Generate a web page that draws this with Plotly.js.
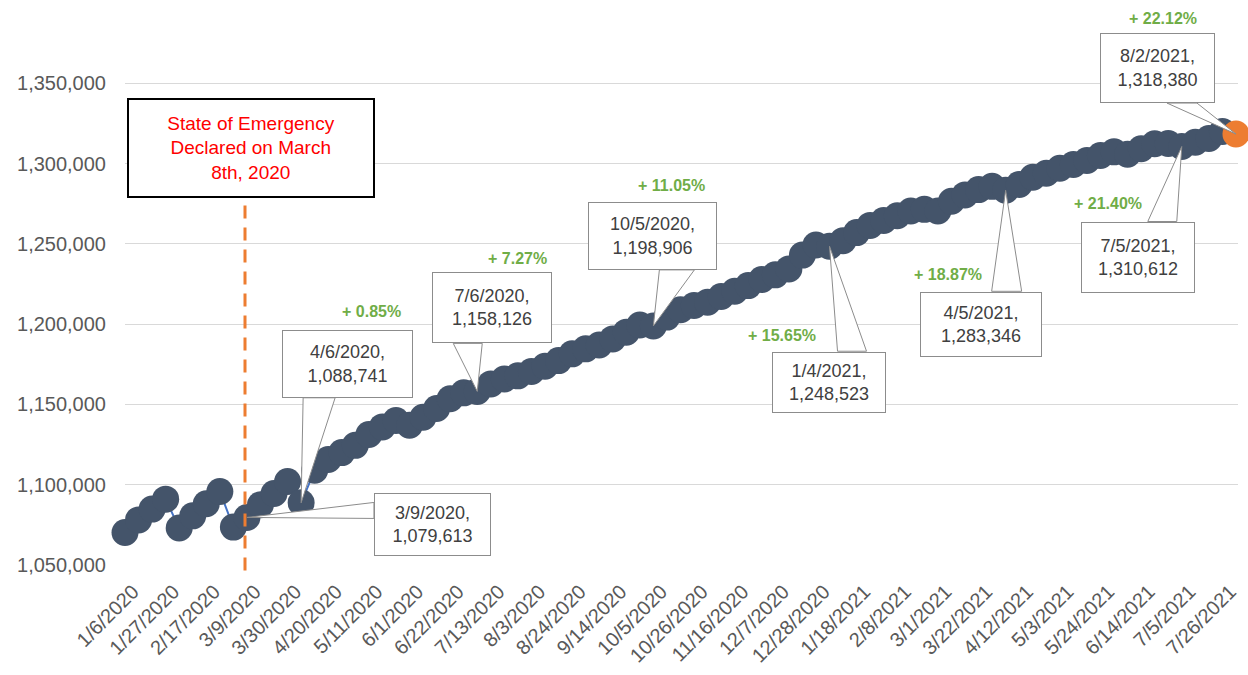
<!DOCTYPE html>
<html>
<head>
<meta charset="utf-8">
<script src="https://cdn.plot.ly/plotly-3.0.1.min.js"></script>
<style>
  body { margin: 0; background: #fff; }
  #chart { width: 1248px; height: 675px; }
</style>
</head>
<body>
<div id="chart"></div>
<script>
// weekly dates (categories)
const weeks = [
  '1/6/2020', '1/13/2020', '1/20/2020', '1/27/2020', '2/3/2020', '2/10/2020', '2/17/2020', '2/24/2020',
  '3/2/2020', '3/9/2020', '3/16/2020', '3/23/2020', '3/30/2020', '4/6/2020', '4/13/2020', '4/20/2020',
  '4/27/2020', '5/4/2020', '5/11/2020', '5/18/2020', '5/25/2020', '6/1/2020', '6/8/2020', '6/15/2020',
  '6/22/2020', '6/29/2020', '7/6/2020', '7/13/2020', '7/20/2020', '7/27/2020', '8/3/2020', '8/10/2020',
  '8/17/2020', '8/24/2020', '8/31/2020', '9/7/2020', '9/14/2020', '9/21/2020', '9/28/2020', '10/5/2020',
  '10/12/2020', '10/19/2020', '10/26/2020', '11/2/2020', '11/9/2020', '11/16/2020', '11/23/2020', '11/30/2020',
  '12/7/2020', '12/14/2020', '12/21/2020', '12/28/2020', '1/4/2021', '1/11/2021', '1/18/2021', '1/25/2021',
  '2/1/2021', '2/8/2021', '2/15/2021', '2/22/2021', '3/1/2021', '3/8/2021', '3/15/2021', '3/22/2021',
  '3/29/2021', '4/5/2021', '4/12/2021', '4/19/2021', '4/26/2021', '5/3/2021', '5/10/2021', '5/17/2021',
  '5/24/2021', '5/31/2021', '6/7/2021', '6/14/2021', '6/21/2021', '6/28/2021', '7/5/2021', '7/12/2021',
  '7/19/2021', '7/26/2021', '8/2/2021'
];

// weekly totals (labelled ones exact)
const totals = [
  1070200, 1078100, 1084800, 1091000, 1073000, 1080600, 1088100, 1095800,
  1073600, 1079613, 1087500, 1094500, 1102000, 1088741, 1109000, 1115700,
  1120000, 1124500, 1131300, 1136000, 1140000, 1137000, 1142000, 1147500,
  1153500, 1157200, 1158126, 1162800, 1165800, 1167800, 1170500, 1173800,
  1177300, 1181500, 1184600, 1187000, 1190800, 1195000, 1199500, 1198906,
  1204400, 1209000, 1211600, 1213700, 1217200, 1220500, 1224000, 1227800,
  1230700, 1234400, 1243000, 1249300, 1248523, 1252000, 1257000, 1261500,
  1264500, 1267500, 1270500, 1271500, 1270500, 1276500, 1280500, 1283800,
  1285800, 1283346, 1287000, 1291500, 1294000, 1297100, 1299400, 1301900,
  1305000, 1307300, 1305800, 1309200, 1312300, 1312500, 1310612, 1313300,
  1315600, 1320000, 1318380
];

const yTicks = [1050000, 1100000, 1150000, 1200000, 1250000, 1300000, 1350000];
const baseWeek = '3/9/2020';
const calloutWeeks = ['3/9/2020', '4/6/2020', '7/6/2020', '10/5/2020', '1/4/2021', '4/5/2021', '7/5/2021', '8/2/2021'];
const pctWeeks = ['4/6/2020', '7/6/2020', '10/5/2020', '1/4/2021', '4/5/2021', '7/5/2021', '8/2/2021'];

// callout box placement, pixels relative to the point (dy up)
const boxPos = {
  '3/9/2020':  {dx: 186, dy: -7,   w: 115, h: 61, wedge: [[127, 15], [127, -1]]},
  '4/6/2020':  {dx: 46,  dy: 139,  w: 129, h: 66, wedge: [[2, 105], [34, 105]]},
  '7/6/2020':  {dx: 15,  dy: 84,   w: 118, h: 69, wedge: [[-24, 48], [5, 48]]},
  '10/5/2020': {dx: -1,  dy: 90,   w: 127, h: 66, wedge: [[6, 56], [41, 56]]},
  '1/4/2021':  {dx: -1,  dy: -136, w: 112, h: 59, wedge: [[8, -105], [37, -105]]},
  '4/5/2021':  {dx: -25, dy: -134, w: 120, h: 63, wedge: [[-14, -101], [16, -101]]},
  '7/5/2021':  {dx: -44, dy: -111, w: 112, h: 69, wedge: [[-34, -75], [-5, -75]]},
  '8/2/2021':  {dx: -78, dy: 66,   w: 113, h: 68, wedge: [[-69, 31], [-39, 31]]}
};
const pctPos = {
  '4/6/2020':  [70, 191],
  '7/6/2020':  [40, 133],
  '10/5/2020': [18, 140],
  '1/4/2021':  [-48, -89],
  '4/5/2021':  [-58, -84],
  '7/5/2021':  [-74, -57],
  '8/2/2021':  [-73, 116]
};

const FONT = 'Liberation Sans, Arial, sans-serif';
const last = weeks.length - 1;
const fmt = v => v.toLocaleString('en-US');
const valueAt = w => totals[weeks.indexOf(w)];

const trace = {
  x: weeks,
  y: totals,
  type: 'scatter',
  mode: 'lines+markers',
  cliponaxis: false,
  line: {color: '#4472C4', width: 2},
  marker: {
    size: 27,
    color: weeks.map((w, i) => i === last ? '#ED7D31' : '#44546A'),
    line: {width: 0}
  },
  hoverinfo: 'skip'
};

const annotations = [];
const shapes = [];

calloutWeeks.forEach(w => {
  const p = boxPos[w];
  const v = valueAt(w);
  const [a, b] = p.wedge;
  shapes.push({
    type: 'path', layer: 'above',
    xref: 'x', yref: 'y',
    xsizemode: 'pixel', ysizemode: 'pixel',
    xanchor: weeks.indexOf(w), yanchor: v,
    path: `M 0,0 L ${a[0]},${a[1]} L ${b[0]},${b[1]} Z`,
    fillcolor: '#ffffff',
    line: {color: '#8C8C8C', width: 1}
  });
  annotations.push({
    x: w, y: v, xref: 'x', yref: 'y',
    showarrow: false,
    xshift: p.dx, yshift: p.dy,
    xanchor: 'center', yanchor: 'middle',
    width: p.w, height: p.h,
    text: w + ',<br>' + fmt(v),
    font: {family: FONT, size: 18, color: '#404040'},
    bgcolor: '#ffffff',
    bordercolor: '#8C8C8C', borderwidth: 1, borderpad: 0
  });
});

const base = valueAt(baseWeek);
pctWeeks.forEach(w => {
  const v = valueAt(w);
  const pct = ((v / base - 1) * 100).toFixed(2);
  const [dx, dy] = pctPos[w];
  annotations.push({
    x: w, y: v, xref: 'x', yref: 'y',
    showarrow: false, xshift: dx, yshift: dy,
    text: '<b>+ ' + pct + '%</b>',
    font: {family: FONT, size: 16, color: '#70AD47'}
  });
});

// state of emergency note and marker line (March 8th = one day before 3/9)
annotations.push({
  xref: 'paper', yref: 'paper', x: 0.1132, y: 0.742,
  showarrow: false, xanchor: 'center', yanchor: 'middle',
  width: 244, height: 96,
  text: 'State of Emergency<br>Declared on March<br>8th, 2020',
  font: {family: FONT, size: 19, color: '#FF0000'},
  bgcolor: '#ffffff', bordercolor: '#000000', borderwidth: 2, borderpad: 0
});
const emergencyX = weeks.indexOf(baseWeek) - 1 / 7;
shapes.push({
  type: 'line', layer: 'above',
  xref: 'x', yref: 'paper',
  x0: emergencyX, x1: emergencyX, y0: -0.01, y1: 0.64,
  line: {color: '#ED7D31', width: 3, dash: '13px,9px'}
});

const layout = {
  width: 1248, height: 675,
  margin: {l: 125, r: 10, t: 3, b: 110},
  paper_bgcolor: '#ffffff', plot_bgcolor: '#ffffff',
  showlegend: false,
  font: {family: FONT, color: '#595959'},
  xaxis: {
    type: 'category',
    range: [0, 82.15],
    tickmode: 'array',
    tickvals: weeks.filter((w, i) => i % 3 === 0),
    tickangle: -45,
    tickfont: {family: FONT, size: 20, color: '#595959'},
    ticklabelstandoff: 10,
    ticklabelshift: 8,
    showgrid: false, zeroline: false, showline: false, ticks: ''
  },
  yaxis: {
    range: [1050000, 1400000],
    tickmode: 'array',
    tickvals: yTicks,
    tickformat: ',d',
    tickfont: {family: FONT, size: 20, color: '#595959'},
    gridcolor: '#D9D9D9', gridwidth: 1,
    zeroline: false, showline: false, ticks: '',
    ticklabelstandoff: 18
  },
  annotations: annotations,
  shapes: shapes
};

Plotly.newPlot('chart', [trace], layout, {staticPlot: true, displayModeBar: false});
</script>
</body>
</html>
